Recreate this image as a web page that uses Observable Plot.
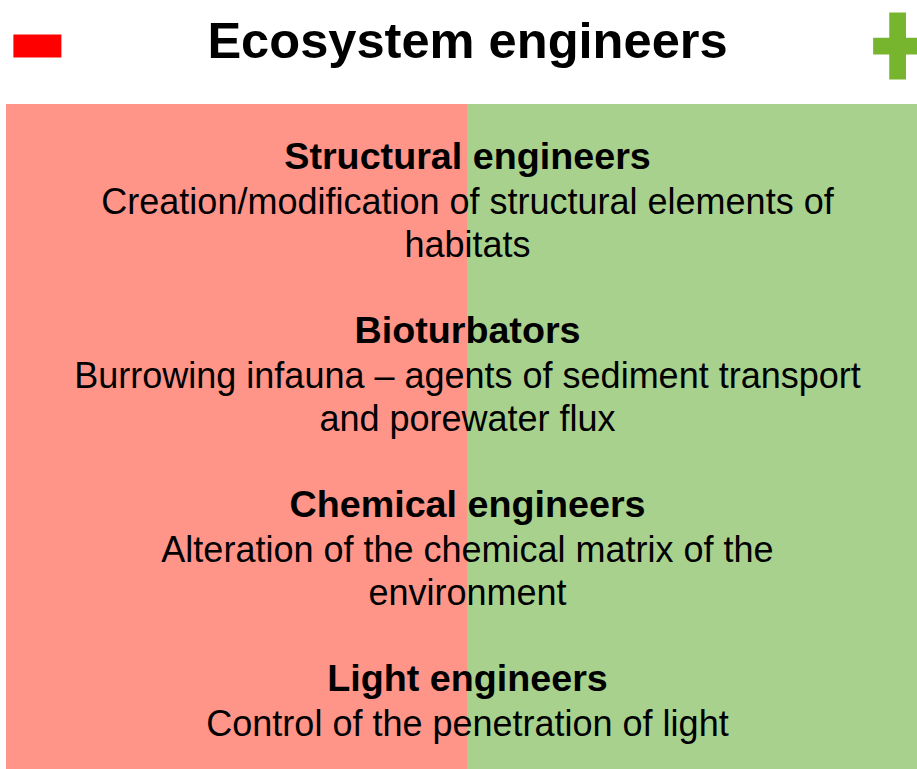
<!DOCTYPE html>
<html>
<head>
<meta charset="utf-8">
<script src="https://cdn.jsdelivr.net/npm/d3@7"></script>
<script src="https://cdn.jsdelivr.net/npm/@observablehq/plot@0.6"></script>
<style>
  html, body { margin: 0; padding: 0; background: #ffffff; }
  #chart svg { display: block; }
</style>
</head>
<body>
<div id="chart"></div>
<script>
// ---- data ----
const title = "Ecosystem engineers";
const sides = ["negative", "positive"];
const sideValues = [-1, 1];
const panelColors = ["#FF9488", "#A9D18E"];
const signColors = ["#FF0000", "#77B52E"];
const groups = [
  "Structural engineers",
  "Bioturbators",
  "Chemical engineers",
  "Light engineers"
];
const descriptions = [
  ["Creation/modification of structural elements of", "habitats"],
  ["Burrowing infauna \u2013 agents of sediment transport", "and porewater flux"],
  ["Alteration of the chemical matrix of the", "environment"],
  ["Control of the penetration of light"]
];

// ---- derived tables ----
const panels = sides.map((s, i) => ({side: s, v: sideValues[i], color: panelColors[i]}));
const signPos = 0.933;
const blocks = groups.map((g, i) => ({group: g, text: descriptions[i].join("\n")}));

// custom sign symbols
const minusSymbol = {
  draw(ctx, size) {
    const r = Math.sqrt(size / Math.PI);
    const h = r * 0.48;
    ctx.moveTo(-r, -h); ctx.lineTo(r, -h); ctx.lineTo(r, h); ctx.lineTo(-r, h); ctx.closePath();
  }
};
const plusSymbol = {
  draw(ctx, size) {
    const r = Math.sqrt(size / Math.PI);
    const t = r * 0.25;
    const w = r * 0.73;
    ctx.moveTo(-t, -r); ctx.lineTo(t, -r); ctx.lineTo(t, -t); ctx.lineTo(w, -t);
    ctx.lineTo(w, t); ctx.lineTo(t, t); ctx.lineTo(t, r); ctx.lineTo(-t, r);
    ctx.lineTo(-t, t); ctx.lineTo(-w, t); ctx.lineTo(-w, -t); ctx.lineTo(-t, -t); ctx.closePath();
  }
};

const font = "'Liberation Sans', Arial, Helvetica, sans-serif";

const chart = Plot.plot({
  width: 917,
  height: 769,
  marginTop: 104,
  marginBottom: 0,
  marginLeft: 6,
  marginRight: -11,
  style: {fontFamily: font, background: "#ffffff", overflow: "hidden"},
  x: {type: "linear", domain: [-1, 1], axis: null},
  y: {type: "point", domain: groups, range: [167, 690], padding: 0, axis: null},
  marks: [
    Plot.rect(panels, {
      x1: d => Math.min(d.v, 0),
      x2: d => Math.max(d.v, 0),
      fill: d => d.color
    }),
    Plot.text([title], {
      x: () => 0,
      frameAnchor: "top",
      lineAnchor: "bottom",
      dy: -47,
      text: d => d,
      fontSize: 50.6,
      fontWeight: "bold",
      fill: "#000000"
    }),
    Plot.dot([sides[0]], {
      x: () => -signPos,
      frameAnchor: "top",
      dy: -58.5,
      r: 24,
      symbol: minusSymbol,
      fill: signColors[0],
      stroke: "none"
    }),
    Plot.dot([sides[1]], {
      x: () => signPos,
      frameAnchor: "top",
      dy: -58.5,
      r: 33.5,
      symbol: plusSymbol,
      fill: signColors[1],
      stroke: "none"
    }),
    Plot.text(blocks, {
      x: () => 0,
      y: "group",
      text: "group",
      lineAnchor: "bottom",
      fontSize: 37.7,
      fontWeight: "bold",
      fill: "#000000"
    }),
    Plot.text(blocks, {
      x: () => 0,
      y: "group",
      text: "text",
      lineAnchor: "top",
      lineHeight: 1.194,
      dy: 14.5,
      fontSize: 36,
      fill: "#000000"
    })
  ]
});
document.getElementById("chart").appendChild(chart);
</script>
</body>
</html>
